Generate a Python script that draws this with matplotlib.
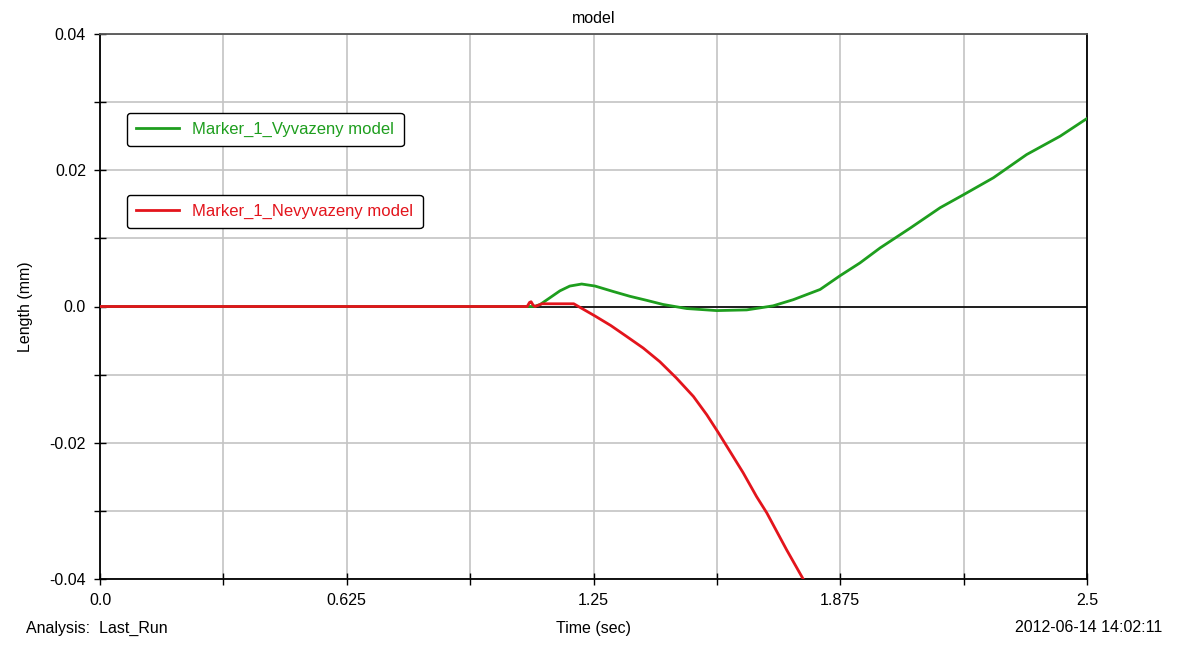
import matplotlib
matplotlib.use('Agg')
import matplotlib.pyplot as plt

plt.rcParams['font.family'] = ['Liberation Sans', 'DejaVu Sans']

# Data (time in sec, length in mm)
t_green = [0.0, 1.10, 1.115, 1.14, 1.165, 1.19, 1.22, 1.254, 1.30, 1.342, 1.385, 1.426,
           1.486, 1.562, 1.638, 1.672, 1.705, 1.756, 1.824, 1.874, 1.925, 1.976,
           2.052, 2.128, 2.187, 2.263, 2.347, 2.432, 2.5]
y_green = [0.0, 0.0, 0.0003, 0.0013, 0.0023, 0.0030, 0.0033, 0.0030, 0.0022, 0.0015, 0.0009, 0.0003,
           -0.0003, -0.0006, -0.0005, -0.0002, 0.0001, 0.0010, 0.0025, 0.0045, 0.0064, 0.0086,
           0.0115, 0.0145, 0.0164, 0.0189, 0.0223, 0.0250, 0.0276]

t_red = [0.0, 1.082, 1.088, 1.092, 1.097, 1.102, 1.12, 1.20, 1.254, 1.294, 1.334, 1.376,
         1.418, 1.460, 1.503, 1.537, 1.566, 1.596, 1.629, 1.663, 1.689, 1.739, 1.781]
y_red = [0.0, 0.0, 0.0006, 0.0007, 0.0002, 0.0, 0.0004, 0.0004, -0.0014, -0.0028, -0.0044, -0.0061,
         -0.0081, -0.0105, -0.0132, -0.0159, -0.0185, -0.0213, -0.0244, -0.0279, -0.0303, -0.0357,
         -0.0400]

x_ticks = [0.0, 0.3125, 0.625, 0.9375, 1.25, 1.5625, 1.875, 2.1875, 2.5]
x_labels = ['0.0', '', '0.625', '', '1.25', '', '1.875', '', '2.5']
y_ticks = [-0.04, -0.03, -0.02, -0.01, 0.0, 0.01, 0.02, 0.03, 0.04]
y_labels = ['-0.04', '', '-0.02', '', '0.0', '', '0.02', '', '0.04']

green = '#1e9e1e'
red = '#e3141c'

fig = plt.figure(figsize=(11.78, 6.46), dpi=100)
ax = fig.add_axes([100/1178, 1 - 579/646, 987/1178, 545/646])

ax.axhline(0, color='black', lw=1.2, zorder=2)
lg, = ax.plot(t_green, y_green, color=green, lw=2, zorder=3, label='Marker_1_Vyvazeny model')
lr, = ax.plot(t_red, y_red, color=red, lw=2, zorder=4, label='Marker_1_Nevyvazeny model')

ax.set_xlim(0, 2.5)
ax.set_ylim(-0.04, 0.04)
ax.set_xticks(x_ticks)
ax.set_xticklabels(x_labels)
ax.set_yticks(y_ticks)
ax.set_yticklabels(y_labels)
ax.grid(True, color='#c4c4c4', lw=1.2)
ax.set_axisbelow(True)
ax.tick_params(direction='inout', length=8, width=1, labelsize=11.5, pad=6)
for s in ax.spines.values():
    s.set_linewidth(1.3)
ax.spines['top'].set_color('#555555')

ax.set_title('model', fontsize=11.5, pad=8)
ax.set_ylabel('Length (mm)', fontsize=11.5, labelpad=12)
fig.text(594/1178, 1 - 628/646, 'Time (sec)', ha='center', va='center', fontsize=11.5)
fig.text(26/1178, 1 - 628/646, 'Analysis:  Last_Run', ha='left', va='center', fontsize=11.5)
fig.text(1162/1178, 1 - 628/646, '2012-06-14 14:02:11', ha='right', va='center', fontsize=11.5)

leg1 = ax.legend(handles=[lg], loc='upper left', bbox_to_anchor=(0.027, 0.855),
                 fancybox=True, edgecolor='black', framealpha=1, fontsize=12,
                 handlelength=2.6, borderaxespad=0, borderpad=0.55, labelcolor=green)
leg1.get_frame().set_linewidth(1)
ax.add_artist(leg1)
leg2 = ax.legend(handles=[lr], loc='upper left', bbox_to_anchor=(0.027, 0.705),
                 fancybox=True, edgecolor='black', framealpha=1, fontsize=12,
                 handlelength=2.6, borderaxespad=0, borderpad=0.55, labelcolor=red)
leg2.get_frame().set_linewidth(1)

fig.savefig('out.png', dpi=100)
